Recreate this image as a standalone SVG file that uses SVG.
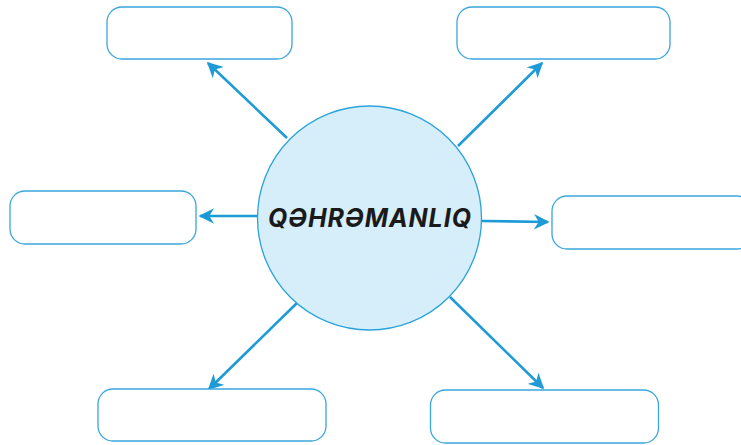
<svg xmlns="http://www.w3.org/2000/svg" width="741" height="445" viewBox="0 0 741 445">
<style>
.box{fill:#fff;stroke:#3aa6de;stroke-width:1.3}
.arr{stroke:#1e9bd7;stroke-width:2.6;fill:none;marker-end:url(#ah)}
.t{font-family:Inter,"Liberation Sans",sans-serif;font-weight:700;font-style:italic;font-size:25px;fill:#1a1a1a}
</style>
<defs>
<marker id="ah" viewBox="0 0 10 10" refX="9" refY="5" markerWidth="6" markerHeight="6" markerUnits="strokeWidth" orient="auto">
<path d="M0,0 L10,5 L0,10 L3,5 Z" fill="#1e9bd7"/>
</marker>
</defs>
<g id="connectors">
<line class="arr" x1="287" y1="138" x2="208" y2="63"/>
<line class="arr" x1="458" y1="146" x2="542" y2="63"/>
<line class="arr" x1="257" y1="216" x2="200" y2="216"/>
<line class="arr" x1="482" y1="221" x2="548" y2="222"/>
<line class="arr" x1="297" y1="303" x2="209" y2="389"/>
<line class="arr" x1="450" y1="297" x2="543" y2="388"/>
</g>
<g id="center">
<circle cx="369.5" cy="218" r="112" fill="#d6eef9" stroke="#29a3dc" stroke-width="1.3"/>
<text class="t" x="369.5" y="227" text-anchor="middle" textLength="203">QƏHRƏMANLIQ</text>
</g>
<g id="box-tl"><rect class="box" x="107" y="7" width="185" height="52" rx="15"/></g>
<g id="box-tr"><rect class="box" x="457" y="7" width="213" height="52" rx="15"/></g>
<g id="box-l"><rect class="box" x="10" y="191" width="186" height="53" rx="15"/></g>
<g id="box-r"><rect class="box" x="552" y="196" width="200" height="53" rx="15"/></g>
<g id="box-bl"><rect class="box" x="98" y="389" width="228" height="52" rx="15"/></g>
<g id="box-br"><rect class="box" x="430.5" y="390" width="228" height="53" rx="15"/></g>
</svg>
